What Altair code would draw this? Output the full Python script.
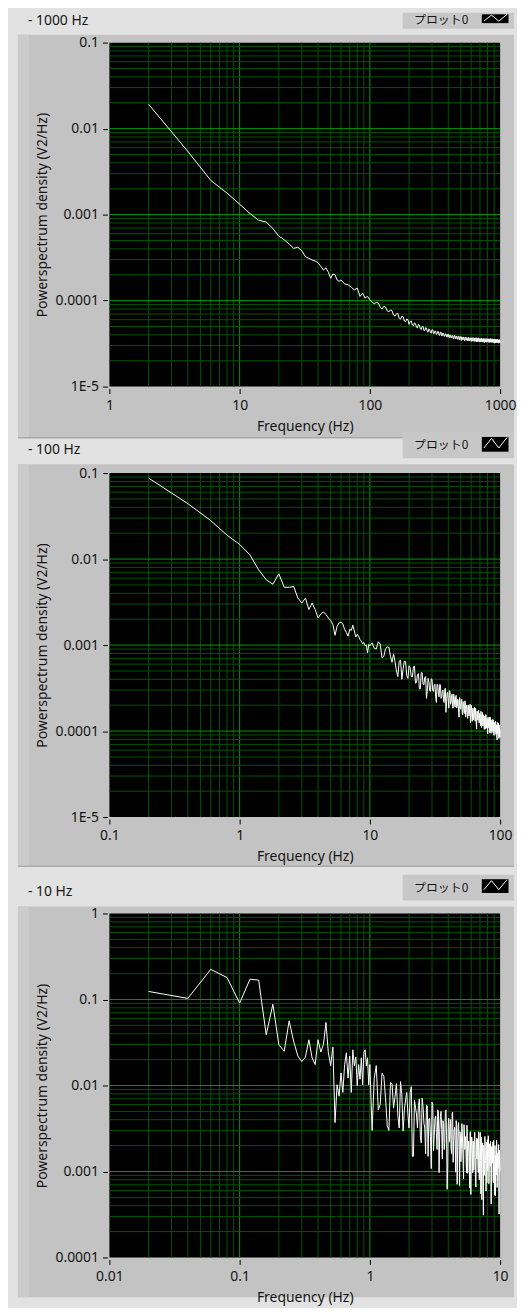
import json
import altair as alt
import pandas as pd

# ---------------- data ----------------
freq_1000 = [2, 4, 6, 8, 10, 12, 14, 16, 18, 20, 22, 24, 26, 28, 30, 32, 34, 36, 38, 40,
             42, 44, 46, 48, 50, 52, 54, 56, 58, 60, 64, 68, 72, 76, 80, 84, 88, 92, 96, 100,
             104, 112, 120, 128, 136, 144, 152, 160, 168, 176, 184, 192, 200, 208, 216, 224,
             232, 240, 248, 256, 264, 272, 280, 288, 296, 304, 312, 320, 328, 336, 344, 352,
             360, 368, 376, 384, 392, 400, 408, 416, 424, 432, 440, 448, 456, 464, 472, 480,
             488, 496, 504, 512, 520, 528, 536, 544, 552, 560, 568, 576, 584, 592, 600, 608,
             616, 624, 632, 640, 648, 656, 664, 672, 680, 688, 696, 704, 712, 720, 728, 736,
             744, 752, 760, 768, 776, 784, 792, 800, 808, 816, 824, 832, 840, 848, 856, 864,
             872, 880, 888, 896, 904, 912, 920, 928, 936, 944, 952, 960, 968, 976, 984, 992, 1000]
psd_1000 = [0.0192, 0.00544, 0.0025, 0.00178, 0.00132, 0.00103, 0.00086, 0.00082, 0.00069, 0.00056,
            0.00051, 0.000454, 0.000405, 0.000418, 0.00038, 0.000324, 0.00031, 0.000297, 0.000289, 0.000276,
            0.00025, 0.000227, 0.00024, 0.000214, 0.000182, 0.000204, 0.0002, 0.000174, 0.000167, 0.000174,
            0.000156, 0.000153, 0.000143, 0.000133, 0.00014, 0.000112, 0.000122, 0.000107, 0.000112, 0.000102,
            9.6e-5, 9.5e-5, 8.4e-5, 8.6e-5, 7.6e-5, 7.8e-5, 6.8e-5, 7.0e-5, 6.2e-5, 6.6e-5,
            5.8e-5, 6.1e-5, 5.3e-5, 5.8e-5, 5.1e-5, 5.4e-5, 4.8e-5, 5.2e-5, 4.6e-5, 5.0e-5,
            4.5e-5, 4.8e-5, 4.3e-5, 4.6e-5, 4.2e-5, 4.55e-5, 4.15e-5, 4.4e-5, 4.1e-5, 4.35e-5,
            3.95e-5, 4.3e-5, 3.9e-5, 4.15e-5, 3.85e-5, 4.1e-5, 3.75e-5, 4.05e-5, 3.7e-5, 3.95e-5,
            3.7e-5, 3.9e-5, 3.6e-5, 3.95e-5, 3.6e-5, 3.8e-5, 3.55e-5, 3.85e-5, 3.5e-5, 3.8e-5,
            3.45e-5, 3.75e-5, 3.5e-5, 3.7e-5, 3.4e-5, 3.75e-5, 3.45e-5, 3.65e-5, 3.4e-5, 3.7e-5,
            3.45e-5, 3.6e-5, 3.35e-5, 3.7e-5, 3.4e-5, 3.65e-5, 3.35e-5, 3.6e-5, 3.4e-5, 3.7e-5,
            3.3e-5, 3.6e-5, 3.4e-5, 3.65e-5, 3.3e-5, 3.6e-5, 3.35e-5, 3.65e-5, 3.3e-5, 3.55e-5,
            3.4e-5, 3.6e-5, 3.25e-5, 3.6e-5, 3.35e-5, 3.55e-5, 3.3e-5, 3.6e-5, 3.35e-5, 3.55e-5,
            3.25e-5, 3.6e-5, 3.35e-5, 3.5e-5, 3.3e-5, 3.6e-5, 3.3e-5, 3.5e-5, 3.35e-5, 3.55e-5,
            3.2e-5, 3.55e-5, 3.3e-5, 3.5e-5, 3.25e-5, 3.55e-5, 3.35e-5, 3.5e-5, 3.2e-5, 3.5e-5,
            3.3e-5, 3.45e-5, 3.35e-5]
# the in-between FFT bins of the noisy 1000 Hz tail, as (frequency, psd) pairs
tail_1000 = [(108, 9.2e-5), (116, 9.4e-5), (124, 8.0e-5), (132, 8.4e-5), (140, 7.4e-5), (148, 7.6e-5),
             (156, 6.6e-5), (164, 7.1e-5), (172, 6.1e-5), (180, 6.5e-5), (188, 5.7e-5), (196, 6.0e-5),
             (204, 5.7e-5), (212, 5.2e-5), (220, 5.5e-5), (228, 4.9e-5), (236, 5.3e-5), (244, 4.7e-5),
             (252, 5.0e-5), (260, 4.5e-5), (268, 4.85e-5), (276, 4.35e-5), (284, 4.7e-5), (292, 4.25e-5),
             (300, 4.6e-5), (308, 4.15e-5), (316, 4.45e-5), (324, 4.05e-5), (332, 4.4e-5), (340, 3.95e-5),
             (348, 4.3e-5), (356, 3.9e-5), (364, 4.2e-5), (372, 3.85e-5), (380, 4.1e-5), (388, 3.8e-5),
             (396, 4.05e-5), (404, 3.75e-5), (412, 4.0e-5), (420, 3.7e-5), (428, 3.95e-5), (436, 3.65e-5),
             (444, 3.9e-5), (452, 3.62e-5), (460, 3.88e-5), (468, 3.58e-5), (476, 3.85e-5), (484, 3.55e-5),
             (492, 3.82e-5), (500, 3.52e-5), (508, 3.8e-5), (516, 3.5e-5), (524, 3.78e-5), (532, 3.45e-5),
             (540, 3.76e-5), (548, 3.48e-5), (556, 3.72e-5), (564, 3.42e-5), (572, 3.74e-5), (580, 3.4e-5),
             (588, 3.7e-5), (596, 3.45e-5), (604, 3.68e-5), (612, 3.38e-5), (620, 3.72e-5), (628, 3.4e-5),
             (636, 3.66e-5), (644, 3.36e-5), (652, 3.7e-5), (660, 3.38e-5), (668, 3.64e-5), (676, 3.32e-5),
             (684, 3.68e-5), (692, 3.36e-5), (700, 3.62e-5), (708, 3.3e-5), (716, 3.66e-5), (724, 3.34e-5),
             (732, 3.6e-5), (740, 3.28e-5), (748, 3.64e-5), (756, 3.32e-5), (764, 3.58e-5), (772, 3.3e-5),
             (780, 3.62e-5), (788, 3.28e-5), (796, 3.58e-5), (804, 3.32e-5), (812, 3.6e-5), (820, 3.26e-5),
             (828, 3.56e-5), (836, 3.3e-5), (844, 3.6e-5), (852, 3.25e-5), (860, 3.55e-5), (868, 3.3e-5),
             (876, 3.58e-5), (884, 3.24e-5), (892, 3.55e-5), (900, 3.28e-5), (908, 3.56e-5), (916, 3.22e-5),
             (924, 3.55e-5), (932, 3.27e-5), (940, 3.52e-5), (948, 3.25e-5), (956, 3.56e-5), (964, 3.22e-5),
             (972, 3.5e-5), (980, 3.26e-5), (988, 3.52e-5), (996, 3.24e-5)]

freq_100 = [0.2, 0.4, 0.6, 0.8, 1.0, 1.2, 1.4, 1.6, 1.8, 2.0, 2.2, 2.4, 2.6, 2.8, 3.0, 3.2, 3.4, 3.6,
            3.8, 4.0, 4.2, 4.4, 4.6, 4.8, 5.0, 5.2, 5.4, 5.6, 5.8, 6.0, 6.2, 6.4, 6.6, 6.8, 7.0, 7.2,
            7.4, 7.6, 7.8, 8.0, 8.2, 8.4, 8.6, 8.8, 9.0, 9.2, 9.4, 9.6, 9.8, 10.0,
            10.4, 11.2, 12.0, 12.8, 13.6, 14.4, 15.2, 16.0, 16.8, 17.6, 18.4, 19.2, 20.0, 20.8,
            21.6, 22.4, 23.2, 24.0, 24.8, 25.6, 26.4, 27.2, 28.0, 28.8, 29.6, 30.4, 31.2, 32.0,
            32.8, 33.6, 34.4, 35.2, 36.0, 36.8, 37.6, 38.4, 39.2, 40.0, 40.8, 41.6, 42.4, 43.2,
            44.0, 44.8, 45.6, 46.4, 47.2, 48.0, 48.8, 49.6, 50.4, 51.2, 52.0, 52.8, 53.6, 54.4,
            55.2, 56.0, 56.8, 57.6, 58.4, 59.2, 60.0, 60.8, 61.6, 62.4, 63.2, 64.0, 64.8, 65.6,
            66.4, 67.2, 68.0, 68.8, 69.6, 70.4, 71.2, 72.0, 72.8, 73.6, 74.4, 75.2, 76.0, 76.8,
            77.6, 78.4, 79.2, 80.0, 80.8, 81.6, 82.4, 83.2, 84.0, 84.8, 85.6, 86.4, 87.2, 88.0,
            88.8, 89.6, 90.4, 91.2, 92.0, 92.8, 93.6, 94.4, 95.2, 96.0, 96.8, 97.6, 98.4, 99.2, 100.0]
psd_100 = [0.0875, 0.0442, 0.028, 0.019, 0.0148, 0.0112, 0.0075, 0.00575, 0.0051, 0.00675,
           0.0047, 0.0047, 0.0048, 0.00352, 0.00308, 0.00352, 0.00259, 0.00308, 0.00259, 0.00207,
           0.0023, 0.00243, 0.00226, 0.00207, 0.00193, 0.00173, 0.0013, 0.00165, 0.00181, 0.00185,
           0.00176, 0.00152, 0.0014, 0.00127, 0.00152, 0.00148, 0.0017, 0.00146, 0.00124, 0.00133,
           0.00127, 0.00116, 0.00111, 0.00104, 0.00107, 0.00098, 0.001, 0.00081, 0.00102, 0.00098,
           10.6e-4, 9.0e-4, 10.3e-4, 7.4e-4, 9.5e-4, 7.4e-4, 7.9e-4, 5.0e-4, 6.5e-4, 4.0e-4,
           6.5e-4, 4.4e-4, 5.75e-4, 4.3e-4, 5.6e-4, 3.6e-4, 4.5e-4, 3.1e-4, 4.8e-4, 3.5e-4,
           4.2e-4, 2.4e-4, 4.1e-4, 2.95e-4, 4.05e-4, 2.95e-4, 3.4e-4, 2.5e-4, 3.5e-4, 2.7e-4,
           3.5e-4, 2.4e-4, 2.9e-4, 2.2e-4, 3.05e-4, 1.65e-4, 2.8e-4, 2.25e-4, 2.95e-4, 2.05e-4,
           2.6e-4, 1.85e-4, 2.7e-4, 2.0e-4, 2.5e-4, 1.85e-4, 2.35e-4, 1.65e-4, 2.45e-4, 1.8e-4,
           2.2e-4, 1.65e-4, 2.2e-4, 1.7e-4, 2.25e-4, 1.45e-4, 2.0e-4, 1.6e-4, 2.0e-4, 1.5e-4,
           1.9e-4, 1.25e-4, 2.0e-4, 1.5e-4, 1.8e-4, 1.35e-4, 1.8e-4, 1.4e-4, 1.85e-4, 1.2e-4,
           1.6e-4, 1.35e-4, 1.7e-4, 1.25e-4, 1.6e-4, 1.3e-4, 1.7e-4, 1.1e-4, 1.5e-4, 1.15e-4,
           1.55e-4, 1.2e-4, 1.45e-4, 1.05e-4, 1.55e-4, 1.15e-4, 1.4e-4, 1.05e-4, 1.45e-4, 1.1e-4,
           1.35e-4, 0.96e-4, 1.45e-4, 1.05e-4, 1.3e-4, 0.99e-4, 1.3e-4, 1.03e-4, 1.35e-4, 0.9e-4,
           1.22e-4, 0.99e-4, 1.25e-4, 0.92e-4, 1.18e-4, 0.85e-4, 1.26e-4, 0.94e-4, 1.13e-4, 0.85e-4,
           1.17e-4, 0.91e-4, 1.05e-4]
tail_100 = [(10.8, 9.2e-4), (11.6, 10.9e-4), (12.4, 7.1e-4), (13.2, 9.1e-4), (14.0, 9.4e-4), (14.8, 6.3e-4),
            (15.6, 6.4e-4), (16.4, 4.3e-4), (17.2, 6.7e-4), (18.0, 5.3e-4), (18.8, 6.4e-4), (19.6, 4.1e-4),
            (20.4, 5.4e-4), (21.2, 4.25e-4), (22.0, 5.7e-4), (22.8, 3.7e-4), (23.6, 4.65e-4), (24.4, 3.1e-4),
            (25.2, 4.75e-4), (26.0, 3.45e-4), (26.8, 4.3e-4), (27.6, 2.9e-4), (28.4, 3.7e-4), (29.2, 2.9e-4),
            (30.0, 4.0e-4), (30.8, 2.9e-4), (31.6, 3.5e-4), (32.4, 2.15e-4), (33.2, 3.45e-4), (34.0, 2.5e-4),
            (34.8, 3.45e-4), (35.6, 2.5e-4), (36.4, 3.0e-4), (37.2, 2.15e-4), (38.0, 3.15e-4), (38.8, 2.2e-4),
            (39.6, 2.8e-4), (40.4, 1.85e-4), (41.2, 2.9e-4), (42.0, 2.15e-4), (42.8, 2.7e-4), (43.6, 1.85e-4),
            (44.4, 2.5e-4), (45.2, 1.9e-4), (46.0, 2.6e-4), (46.8, 1.95e-4), (47.6, 2.3e-4), (48.4, 1.45e-4),
            (49.2, 2.35e-4), (50.0, 1.8e-4), (50.8, 2.35e-4), (51.6, 1.55e-4), (52.4, 2.1e-4), (53.2, 1.6e-4),
            (54.0, 2.2e-4), (54.8, 1.65e-4), (55.6, 2.0e-4), (56.4, 1.4e-4), (57.2, 2.0e-4), (58.0, 1.55e-4),
            (58.8, 2.05e-4), (59.6, 1.45e-4), (60.4, 1.85e-4), (61.2, 1.3e-4), (62.0, 1.85e-4), (62.8, 1.45e-4),
            (63.6, 1.9e-4), (64.4, 1.3e-4), (65.2, 1.7e-4), (66.0, 1.05e-4), (66.8, 1.7e-4), (67.6, 1.35e-4),
            (68.4, 1.75e-4), (69.2, 1.25e-4), (70.0, 1.6e-4), (70.8, 1.15e-4), (71.6, 1.6e-4), (72.4, 1.25e-4),
            (73.2, 1.65e-4), (74.0, 1.15e-4), (74.8, 1.5e-4), (75.6, 1.05e-4), (76.4, 1.5e-4), (77.2, 1.17e-4),
            (78.0, 1.55e-4), (78.8, 1.08e-4), (79.6, 1.4e-4), (80.4, 0.93e-4), (81.2, 1.4e-4), (82.0, 1.1e-4),
            (82.8, 1.45e-4), (83.6, 1.02e-4), (84.4, 1.3e-4), (85.2, 0.94e-4), (86.0, 1.33e-4), (86.8, 1.03e-4),
            (87.6, 1.37e-4), (88.4, 0.96e-4), (89.2, 1.23e-4), (90.0, 0.89e-4), (90.8, 1.26e-4), (91.6, 0.98e-4),
            (92.4, 1.3e-4), (93.2, 0.91e-4), (94.0, 1.17e-4), (94.8, 0.79e-4), (95.6, 1.2e-4), (96.4, 0.94e-4),
            (97.2, 1.24e-4), (98.0, 0.82e-4), (98.8, 1.11e-4), (99.6, 0.85e-4)]

freq_10 = [0.02, 0.04, 0.06, 0.08, 0.10, 0.12, 0.14, 0.16, 0.18, 0.20, 0.22, 0.24, 0.26, 0.28,
           0.30, 0.32, 0.34, 0.36, 0.38, 0.40, 0.42, 0.44, 0.46, 0.48, 0.50, 0.52, 0.54, 0.56,
           0.58, 0.60, 0.62, 0.64, 0.66, 0.68, 0.70, 0.72, 0.74, 0.76, 0.78, 0.80, 0.82, 0.84,
           0.86, 0.88, 0.90, 0.92, 0.94, 0.96, 0.98, 1.00,
           1.04, 1.12, 1.20, 1.28, 1.36, 1.44, 1.52, 1.60, 1.68, 1.76, 1.84, 1.92, 2.00, 2.08,
           2.16, 2.24, 2.32, 2.40, 2.48, 2.56, 2.64, 2.72, 2.80, 2.88, 2.96, 3.04, 3.12, 3.20,
           3.28, 3.36, 3.44, 3.52, 3.60, 3.68, 3.76, 3.84, 3.92, 4.00, 4.08, 4.16, 4.24, 4.32,
           4.40, 4.48, 4.56, 4.64, 4.72, 4.80, 4.88, 4.96, 5.04, 5.12, 5.20, 5.28, 5.36, 5.44,
           5.52, 5.60, 5.68, 5.76, 5.84, 5.92, 6.00, 6.08, 6.16, 6.24, 6.32, 6.40, 6.48, 6.56,
           6.64, 6.72, 6.80, 6.88, 6.96, 7.04, 7.12, 7.20, 7.28, 7.36, 7.44, 7.52, 7.60, 7.68,
           7.76, 7.84, 7.92, 8.00, 8.08, 8.16, 8.24, 8.32, 8.40, 8.48, 8.56, 8.64, 8.72, 8.80,
           8.88, 8.96, 9.04, 9.12, 9.20, 9.28, 9.36, 9.44, 9.52, 9.60, 9.68, 9.76, 9.84, 9.92, 10.0]
psd_10 = [0.124, 0.103, 0.224, 0.18, 0.0906, 0.172, 0.168, 0.0389, 0.088, 0.0298,
          0.025, 0.0565, 0.0326, 0.022, 0.019, 0.0214, 0.034, 0.021, 0.0175, 0.034,
          0.0245, 0.03, 0.054, 0.0239, 0.017, 0.028, 0.0037, 0.0102, 0.0075, 0.014,
          0.0083, 0.0175, 0.024, 0.0122, 0.022, 0.0083, 0.026, 0.017, 0.0214, 0.01,
          0.0175, 0.0118, 0.021, 0.0102, 0.0245, 0.026, 0.017, 0.021, 0.0102, 0.0175,
          3.0e-3, 17e-3, 6.0e-3, 12.8e-3, 3.4e-3, 10.8e-3, 5.5e-3, 10.5e-3, 3.2e-3, 7.8e-3,
          5.2e-3, 8.3e-3, 3.2e-3, 9.7e-3, 1.5e-3, 5.6e-3, 3.2e-3, 7.0e-3, 2.15e-3, 5.7e-3,
          3.2e-3, 5.9e-3, 1.5e-3, 4.1e-3, 1.08e-3, 6.0e-3, 2.6e-3, 4.4e-3, 1.8e-3, 4.9e-3,
          2.9e-3, 5.0e-3, 1.4e-3, 3.6e-3, 2.1e-3, 5.2e-3, 0.62e-3, 3.6e-3, 2.2e-3, 4.0e-3,
          1.6e-3, 4.9e-3, 2.3e-3, 3.25e-3, 0.98e-3, 3.4e-3, 1.75e-3, 3.7e-3, 0.68e-3, 2.6e-3,
          1.8e-3, 3.15e-3, 1.25e-3, 3.5e-3, 1.8e-3, 2.55e-3, 0.97e-3, 2.9e-3, 1.5e-3, 2.2e-3,
          0.64e-3, 2.9e-3, 1.6e-3, 2.5e-3, 0.96e-3, 2.25e-3, 1.35e-3, 2.85e-3, 0.75e-3, 1.95e-3,
          1.4e-3, 2.4e-3, 0.97e-3, 2.1e-3, 1.45e-3, 2.85e-3, 0.55e-3, 1.9e-3, 1.25e-3, 2.15e-3,
          0.31e-3, 2.0e-3, 1.05e-3, 2.25e-3, 1.25e-3, 1.8e-3, 0.74e-3, 2.35e-3, 1.3e-3, 1.85e-3,
          0.86e-3, 2.1e-3, 1.15e-3, 1.7e-3, 0.42e-3, 1.95e-3, 1.25e-3, 2.2e-3, 0.74e-3, 1.75e-3,
          1.15e-3, 2.0e-3, 0.52e-3, 1.55e-3, 0.98e-3, 1.8e-3, 0.77e-3, 1.65e-3, 1.15e-3, 2.05e-3,
          0.32e-3, 1.5e-3, 1.0e-3]
tail_10 = [(1.08, 12.1e-3), (1.16, 5.2e-3), (1.24, 13.9e-3), (1.32, 7.0e-3), (1.40, 3.0e-3), (1.48, 10.5e-3),
           (1.56, 7.4e-3), (1.64, 4.5e-3), (1.72, 11.1e-3), (1.80, 2.95e-3), (1.88, 6.8e-3), (1.96, 4.6e-3),
           (2.04, 8.3e-3), (2.12, 1.5e-3), (2.20, 6.7e-3), (2.28, 4.65e-3), (2.36, 5.85e-3), (2.44, 2.6e-3),
           (2.52, 7.1e-3), (2.60, 3.65e-3), (2.68, 1.6e-3), (2.76, 5.8e-3), (2.84, 4.1e-3), (2.92, 2.55e-3),
           (3.00, 6.4e-3), (3.08, 1.75e-3), (3.16, 4.1e-3), (3.24, 2.85e-3), (3.32, 5.2e-3), (3.40, 0.97e-3),
           (3.48, 4.4e-3), (3.56, 3.07e-3), (3.64, 3.9e-3), (3.72, 1.8e-3), (3.80, 5.0e-3), (3.88, 2.6e-3),
           (3.96, 1.13e-3), (4.04, 4.15e-3), (4.12, 3.0e-3), (4.20, 1.87e-3), (4.28, 4.7e-3), (4.36, 1.28e-3),
           (4.44, 3.0e-3), (4.52, 2.1e-3), (4.60, 3.9e-3), (4.68, 0.71e-3), (4.76, 3.25e-3), (4.84, 2.27e-3),
           (4.92, 2.9e-3), (5.00, 1.3e-3), (5.08, 3.6e-3), (5.16, 1.87e-3), (5.24, 0.82e-3), (5.32, 3.0e-3),
           (5.40, 2.2e-3), (5.48, 1.37e-3), (5.56, 3.45e-3), (5.64, 0.95e-3), (5.72, 2.25e-3), (5.80, 1.55e-3),
           (5.88, 2.9e-3), (5.96, 0.54e-3), (6.04, 2.5e-3), (6.12, 1.75e-3), (6.20, 2.25e-3), (6.28, 1.03e-3),
           (6.36, 2.85e-3), (6.44, 1.5e-3), (6.52, 0.66e-3), (6.60, 2.45e-3), (6.68, 1.8e-3), (6.76, 1.13e-3),
           (6.84, 2.9e-3), (6.92, 0.8e-3), (7.00, 1.9e-3), (7.08, 1.33e-3), (7.16, 2.5e-3), (7.24, 0.47e-3),
           (7.32, 2.15e-3), (7.40, 1.53e-3), (7.48, 2.0e-3), (7.56, 0.9e-3), (7.64, 2.55e-3), (7.72, 1.34e-3),
           (7.80, 0.59e-3), (7.88, 2.2e-3), (7.96, 1.6e-3), (8.04, 1.02e-3), (8.12, 2.6e-3), (8.20, 0.72e-3),
           (8.28, 1.7e-3), (8.36, 1.2e-3), (8.44, 2.25e-3), (8.52, 0.42e-3), (8.60, 1.93e-3), (8.68, 1.37e-3),
           (8.76, 1.77e-3), (8.84, 0.81e-3), (8.92, 2.3e-3), (9.00, 1.2e-3), (9.08, 0.53e-3), (9.16, 1.97e-3),
           (9.24, 1.43e-3), (9.32, 0.91e-3), (9.40, 2.3e-3), (9.48, 0.65e-3), (9.56, 1.54e-3), (9.64, 1.09e-3),
           (9.72, 2.05e-3), (9.80, 0.32e-3), (9.88, 1.76e-3), (9.96, 1.26e-3)]

x_ticks = {"1000": [1, 10, 100, 1000], "100": [0.1, 1, 10, 100], "10": [0.01, 0.1, 1, 10]}
x_labels = {"1000": ["1", "10", "100", "1000"], "100": ["0.1", "1", "10", "100"],
            "10": ["0.01", "0.1", "1", "10"]}
y_ticks = {"1000": [1e-5, 1e-4, 1e-3, 1e-2, 0.1], "100": [1e-5, 1e-4, 1e-3, 1e-2, 0.1],
           "10": [1e-4, 1e-3, 1e-2, 0.1, 1]}
y_labels = {"1000": ["1E-5", "0.0001", "0.001", "0.01", "0.1"],
            "100": ["1E-5", "0.0001", "0.001", "0.01", "0.1"],
            "10": ["0.0001", "0.001", "0.01", "0.1", "1"]}
panel_titles = {"1000": "- 1000 Hz", "100": "- 100 Hz", "10": "- 10 Hz"}
legend_label = "プロット0"
x_title = "Frequency (Hz)"
y_title = "Powerspectrum density (V2/Hz)"

# ---------------- style / layout (pixels of the whole chart) ----------------
FONT = "Noto Sans"
JP = "Noto Sans CJK JP"
TXT = "#141414"
PAGE = "#e2e2e2"
PANEL = "#c3c3c3"
BEVEL_L = "#cbcbcb"
EDGE = "#9c9c9c"
LEGBOX = "#c7c7c7"
MAJOR = "#009a00"
MINOR = "#005400"
CW, CH = 509, 1292
X0, X1 = 102, 495

panels = [
    dict(key="1000", freq=freq_1000, psd=psd_1000, extra=tail_1000, xdom=[1, 1000], ydom=[1e-5, 0.1],
         xdec=[1, 10, 100, 1000], ydec=[1e-5, 1e-4, 1e-3, 1e-2, 0.1], top=30, bottom=376,
         gray=(22, 428), legend=(0, 16), icon=(1, 11), legtext=7, title=8),
    dict(key="100", freq=freq_100, psd=psd_100, extra=tail_100, xdom=[0.1, 100], ydom=[1e-5, 0.1],
         xdec=[0.1, 1, 10, 100], ydec=[1e-5, 1e-4, 1e-3, 1e-2, 0.1], top=463, bottom=809,
         gray=(454, 859), legend=(422, 448), icon=(426, 442), legtext=435, title=440),
    dict(key="10", freq=freq_10, psd=psd_10, extra=tail_10, xdom=[0.01, 10], ydom=[1e-4, 1],
         xdec=[0.01, 0.1, 1, 10], ydec=[1e-4, 1e-3, 1e-2, 0.1, 1], top=906, bottom=1252,
         gray=(899, CH), legend=(867, 893), icon=(871, 886), legtext=880, title=884),
]


def minor_of(decades):
    return [m * d for d in decades[:-1] for m in range(2, 10)]


def expr(ticks, labels):
    return f"{json.dumps(labels)}[indexof({json.dumps(ticks)}, datum.value)]"


def px(field):
    return alt.X(f"{field}:Q", scale=None)


def py(field):
    return alt.Y(f"{field}:Q", scale=None)


# ---------- decorations (LabVIEW front panel look) ----------
rect_rows = [(0, CW, 0, CH, PAGE)]
for p in panels:
    g0, g1 = p["gray"]
    rect_rows += [(10, CW, g0, g1, PANEL), (10, 21, g0, g1, BEVEL_L)]
    if g1 < CH:
        rect_rows.append((10, CW, g1 - 1, g1, EDGE))
for p in panels:
    rect_rows.append((X0, X1, p["top"], p["bottom"], "black"))
for p in panels:
    rect_rows.append((397, CW, p["legend"][0], p["legend"][1], LEGBOX))

rects = alt.Chart(pd.DataFrame(rect_rows, columns=["x", "x2", "y", "y2", "c"])).mark_rect().encode(
    x=px("x"), x2="x2:Q", y=py("y"), y2="y2:Q", fill=alt.Fill("c:N", scale=None))

icon_rows = [(476, 504, p["icon"][0], p["icon"][1]) for p in panels]
icon_box = alt.Chart(pd.DataFrame(icon_rows, columns=["x", "x2", "y", "y2"])).mark_rect(
    fill="black", stroke="#d6d6d6", strokeWidth=1).encode(x=px("x"), x2="x2:Q", y=py("y"), y2="y2:Q")

zig = [(-11.3, 3.5), (-3.7, -5.5), (3.7, 3.5), (12.0, -6.5)]
zig_rows = []
for g, (x, x2, y, y2) in enumerate(icon_rows):
    s = (y2 - y) / 15.0
    for o, (dx, dy) in enumerate(zig):
        zig_rows.append((g, o, (x + x2) / 2 + dx, (y + y2) / 2 + dy * s))
icon_zig = alt.Chart(pd.DataFrame(zig_rows, columns=["g", "o", "x", "y"])).mark_line(
    color="white", strokeWidth=1).encode(x=px("x"), y=py("y"), detail="g:N", order="o:Q")

title_df = pd.DataFrame([(20, p["title"], panel_titles[p["key"]]) for p in panels],
                        columns=["x", "y", "t"])
titles = alt.Chart(title_df).mark_text(align="left", baseline="middle", font=FONT,
                                       fontSize=14, color=TXT).encode(x=px("x"), y=py("y"), text="t:N")
leg_df = pd.DataFrame([(463, p["legtext"], legend_label) for p in panels], columns=["x", "y", "t"])
leg_text = alt.Chart(leg_df).mark_text(align="right", baseline="middle", font=JP,
                                       fontSize=12, color=TXT).encode(x=px("x"), y=py("y"), text="t:N")

layers = [rects, icon_box, icon_zig, titles, leg_text]

# ---------- the three spectra ----------
for p in panels:
    key, top, bottom = p["key"], p["top"], p["bottom"]
    xs = alt.Scale(type="log", domain=p["xdom"], range=[X0, X1], nice=False)
    ys = alt.Scale(type="log", domain=p["ydom"], range=[bottom, top], nice=False)
    for vals, col in ((minor_of(p["xdec"]), MINOR), (p["xdec"][1:-1], MAJOR)):
        layers.append(alt.Chart(pd.DataFrame({"v": vals})).mark_rule(color=col, strokeWidth=1).encode(
            x=alt.X("v:Q", scale=xs, axis=None), y=alt.value(top), y2=alt.value(bottom)))
    for vals, col in ((minor_of(p["ydec"]), MINOR), (p["ydec"][1:-1], MAJOR)):
        layers.append(alt.Chart(pd.DataFrame({"v": vals})).mark_rule(color=col, strokeWidth=1).encode(
            y=alt.Y("v:Q", scale=ys, axis=None), x=alt.value(X0), x2=alt.value(X1)))
    df = pd.concat([pd.DataFrame({"f": p["freq"], "p": p["psd"]}),
                    pd.DataFrame(p["extra"], columns=["f", "p"])]).sort_values("f")
    layers.append(alt.Chart(df).mark_line(color="white", strokeWidth=1).encode(
        x=alt.X("f:Q", scale=xs, axis=alt.Axis(
            orient="bottom", offset=bottom + 2 - CH,
            values=x_ticks[key], labelExpr=expr(x_ticks[key], x_labels[key]),
            title=x_title, grid=False, domain=False, tickSize=5, tickColor="black",
            labelPadding=5, labelFont=FONT, labelFontSize=14, labelColor=TXT,
            labelFlush=False, labelOverlap=False, titleFont=FONT, titleFontSize=14,
            titleFontWeight="normal", titleColor=TXT, titleY=38, titleBaseline="middle",
            zindex=2)),
        y=alt.Y("p:Q", scale=ys, axis=alt.Axis(
            orient="left", offset=2 - X0,
            values=y_ticks[key], labelExpr=expr(y_ticks[key], y_labels[key]),
            title=y_title, grid=False, domain=False, tickSize=5, tickColor="black",
            labelPadding=4, labelFont=FONT, labelFontSize=14, labelColor=TXT,
            labelFlush=False, labelOverlap=False, titleFont=FONT, titleFontSize=14,
            titleFontWeight="normal", titleColor=TXT, titleAngle=270, titleX=-65,
            titleY=(top + bottom) / 2, titleAlign="center", titleBaseline="middle",
            zindex=2)),
        order="f:Q",
    ))

chart = alt.layer(*layers).properties(width=CW, height=CH, padding=0).resolve_scale(
    x="independent", y="independent").resolve_axis(x="independent", y="independent").configure(
    background=PAGE).configure_view(strokeWidth=0)

chart.save("out.html", embed_options={"renderer": "svg", "actions": False})
